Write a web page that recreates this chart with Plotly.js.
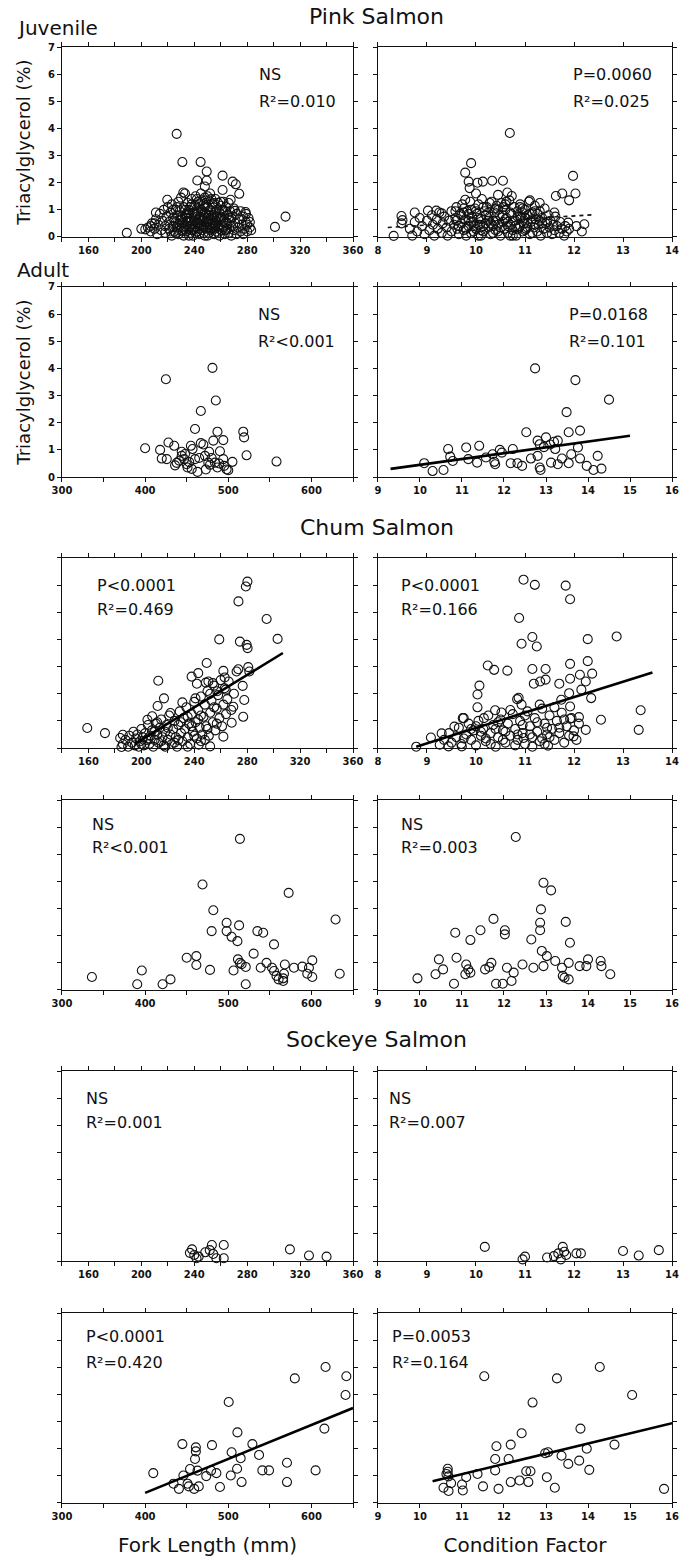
<!DOCTYPE html>
<html><head><meta charset="utf-8">
<script src="https://cdn.plot.ly/plotly-3.0.1.min.js"></script>
<style>html,body{margin:0;padding:0;background:#fff}</style>
</head><body><div id="chart" style="width:684px;height:1562px"></div>
<script>
// ---------------- DATA ----------------
const pinkJuvFL = [[189,0.15],[200,0.3],[203,0.28],[207,0.4],[210,0.5],[211,0.9],[219.6,1.37],[226.7,3.8],[231,2.76],[231.7,1.64],[244.8,2.76],[249.4,2.41],[242.3,2.08],[249.4,2.08],[248,1.86],[261.4,2.26],[261.4,1.73],[269,2.04],[271.4,1.94],[274,1.59],[267.5,1.37],[270.8,0.96],[278.8,0.92],[301,0.37],[309,0.75],
[205,0.35],[207,0.2],[208,0.5],[210,0.3],[211,0.65],[212,0.1],[213,0.45],[214,0.85],[215,0.25],[216,0.6],[217,1.0],[218,0.15],[218,0.4],[219,0.75],[220,1.1],[221,0.3],[221,0.55],[222,0.9],[223,0.05],[223,1.2],[224,0.4],[224,0.7],[225,0.2],[226,1.0],[226,0.55],[227,0.35],[227,0.8],[228,1.3],[228,0.1],[229,0.6],[229,0.95],[230,0.25],[230,1.45],[231,0.5],[231,0.75],[232,1.1],[232,0.05],[233,0.4],[233,1.6],[234,0.85],[234,0.2],[235,1.25],[235,0.6],[236,0.35],[236,1.0],[237,0.15],[237,0.7],[238,1.4],[238,0.45],[239,0.9],[239,0.05],[240,1.15],[240,0.3],[240,0.6],[241,1.5],[241,0.8],[242,0.2],[242,1.05],[243,0.5],[243,1.3],[244,0.1],[244,0.75],[245,1.6],[245,0.4],[246,0.95],[246,0.25],[247,1.2],[247,0.6],[248,0.05],[248,1.45],[249,0.85],[249,0.35],[250,1.1],[250,0.55],[251,0.15],[251,1.35],[252,0.7],[252,1.6],[253,0.3],[253,0.95],[254,1.2],[254,0.5],[255,0.1],[255,0.8],[256,1.4],[256,0.4],[257,1.0],[257,0.2],[258,0.65],[258,1.25],[259,0.05],[259,0.9],[260,0.45],[260,1.15],[261,0.25],[261,0.7],[262,1.3],[262,0.35],[263,0.95],[263,0.1],[264,0.55],[264,1.1],[265,0.3],[265,0.8],[266,1.25],[266,0.15],[267,0.6],[267,0.95],[268,0.4],[268,0.05],[269,0.75],[270,1.05],[270,0.25],[271,0.5],[272,0.85],[272,0.1],[273,0.35],[274,0.65],[275,0.2],[275,0.95],[276,0.45],[277,0.75],[277,0.1],[278,0.3],[279,0.55],[279,0.85],[280,0.2],[280,0.45],[281,0.7],[282,0.35],[282,0.55],[283,0.25],
[236,0.05],[238,0.25],[241,0.4],[244,0.3],[247,0.15],[250,0.05],[252,0.45],[255,0.3],[258,0.15],[243,0.65],[246,0.7],[249,0.55],[251,0.8],[254,0.35],[257,0.55],[239,0.5],[234,0.55],[231,0.2],[228,0.45],[226,0.15],[262,0.6],[265,0.5],[268,0.7],[256,0.9],[253,0.6],[248,0.9],[245,1.0],[242,0.85],[237,1.1],[233,1.0],
[232,0.3],[234,0.7],[236,0.85],[238,0.6],[240,0.9],[242,0.55],[244,1.2],[246,0.45],[248,0.7],[250,0.35],[252,1.0],[254,0.8],[256,0.6],[258,0.4],[260,0.75],[262,0.95],[264,0.25],[266,0.7],[241,0.15],[243,0.95],[245,0.6],[247,0.35],[249,1.25],[251,0.6],[253,1.4],[255,0.5],[257,0.75],[259,0.3],[261,1.0],[263,0.5],[235,0.9],[237,0.4],[239,0.25],[233,0.8],[230,0.65],[229,0.4],[227,1.1],[225,0.6],[222,0.2],[224,1.0],[250,1.5],[246,1.35],[242,1.4],[238,1.2],[255,1.25],[260,1.3],[236,0.6],[244,0.5],[252,0.25],[248,1.1]];

const pinkJuvCF = [[8.32,0.04],[8.48,0.77],[8.5,0.62],[8.48,0.5],[8.75,0.9],[9.02,0.97],[9.19,0.97],[9.3,0.87],[9.58,0.95],[9.9,2.72],[9.78,2.37],[9.85,2.04],[10.03,2.0],[9.87,1.8],[9.78,1.37],[10.0,1.6],[10.14,2.04],[10.33,2.07],[10.55,2.07],[10.69,3.83],[10.64,1.64],[10.73,1.51],[11.98,2.25],[11.63,1.51],[11.76,1.6],[12.03,1.6],[11.9,1.35],[11.88,0.53],[12.21,0.47],[12.16,0.2],[12.05,0.4],[10.45,1.55],[11.1,1.35],[11.3,1.25],
[8.65,0.3],[8.7,0.05],[8.75,0.55],[8.8,0.2],[8.85,0.7],[8.9,0.4],[8.95,0.1],[9.0,0.6],[9.05,0.25],[9.1,0.8],[9.12,0.45],[9.15,0.05],[9.2,0.65],[9.22,0.3],[9.25,0.9],[9.3,0.15],[9.32,0.5],[9.35,0.75],[9.4,0.35],[9.42,0.05],[9.45,0.6],[9.5,0.95],[9.5,0.2],[9.55,0.45],[9.58,0.7],[9.6,1.1],[9.62,0.3],[9.65,0.1],[9.68,0.85],[9.7,0.5],[9.72,1.2],[9.75,0.25],[9.78,0.65],[9.8,0.05],[9.82,0.95],[9.85,0.4],[9.88,1.3],[9.9,0.15],[9.92,0.75],[9.95,0.55],[9.98,1.05],[10.0,0.3],[10.02,0.85],[10.05,0.05],[10.05,1.2],[10.08,0.45],[10.1,0.65],[10.12,1.4],[10.15,0.2],[10.18,0.95],[10.2,0.5],[10.22,1.1],[10.25,0.35],[10.28,0.75],[10.3,0.1],[10.32,1.3],[10.35,0.6],[10.38,0.9],[10.4,0.25],[10.42,1.15],[10.45,0.45],[10.48,0.8],[10.5,0.05],[10.52,1.25],[10.55,0.55],[10.58,0.3],[10.6,1.0],[10.62,0.7],[10.65,0.15],[10.68,1.35],[10.7,0.45],[10.72,0.85],[10.75,0.25],[10.78,1.1],[10.8,0.6],[10.82,0.05],[10.85,0.95],[10.88,0.35],[10.9,1.2],[10.92,0.7],[10.95,0.2],[10.98,0.5],[11.0,1.0],[11.02,0.3],[11.05,0.8],[11.08,1.3],[11.1,0.1],[11.12,0.55],[11.15,0.9],[11.18,0.35],[11.2,1.15],[11.22,0.65],[11.25,0.2],[11.28,0.45],[11.3,0.95],[11.32,0.05],[11.35,0.7],[11.38,0.3],[11.4,1.05],[11.42,0.5],[11.45,0.15],[11.48,0.8],[11.5,0.35],[11.52,0.6],[11.55,0.1],[11.58,0.45],[11.6,0.25],[11.62,0.75],[11.65,0.4],[11.7,0.15],[11.72,0.55],[11.75,0.3],[11.8,0.05],[11.82,0.4],[11.85,0.2],[11.9,0.3],
[9.65,0.4],[9.75,0.9],[9.85,0.6],[9.95,0.2],[10.05,0.7],[10.15,0.4],[10.25,0.9],[10.35,0.15],[10.45,1.0],[10.55,0.8],[10.65,0.4],[10.75,0.6],[10.85,0.3],[10.95,0.9],[11.05,0.5],[11.15,0.15],[11.25,0.85],[10.1,0.05],[10.4,0.6],[10.7,0.05],[9.9,1.0],[10.6,1.2],[10.9,0.4],[11.0,0.7],
[9.7,0.8],[9.8,0.3],[9.9,0.55],[10.0,0.95],[10.1,0.25],[10.2,0.8],[10.3,0.5],[10.4,1.05],[10.5,0.35],[10.6,0.65],[10.7,0.9],[10.8,0.4],[10.9,0.75],[11.0,0.25],[11.1,0.85],[11.2,0.45],[11.3,0.6],[9.6,0.6],[9.75,1.05],[9.95,0.4],[10.15,1.1],[10.35,0.4],[10.55,1.1],[10.75,0.05],[10.95,1.05],[11.15,0.65],[11.35,0.5],[10.25,0.6],[10.45,0.2],[10.65,0.55],[10.85,0.75],[11.05,0.35],[9.85,0.85],[10.05,0.45],[10.28,1.25],[10.62,1.3],[10.9,1.1],[11.2,0.95],[11.45,0.55],[11.6,0.9]];
const pinkJuvCF_fitX = [8.2, 12.4];
const pinkJuvCF_fitY = [0.35, 0.82];

const pinkAdFL = [[400,1.06],[418,1.0],[420,0.68],[426,0.66],[425,3.6],[428,1.27],[435,1.15],[436,0.43],[438,0.52],[444,0.78],[447,0.66],[450,0.47],[451,0.35],[444,0.93],[455,1.15],[457,1.03],[460,1.77],[467,2.43],[467,1.25],[470,1.2],[463,0.19],[472,0.78],[476,0.53],[477,0.93],[481,4.02],[482,1.34],[485,2.82],[487,1.67],[484,0.53],[487,0.35],[489,0.5],[494,1.36],[494,0.66],[495,0.41],[498,0.28],[505,0.56],[518,1.67],[519,1.46],[522,0.8],[558,0.57],[465,0.7],[473,0.28],[460,0.66],[448,0.85],[453,0.55],[478,0.45],[480,0.7],[490,0.95],[441,0.6],[456,0.3],[500,0.25]];

const pinkAdCF = [[10.1,0.51],[10.3,0.22],[10.56,0.26],[10.67,1.03],[10.72,0.75],[10.78,0.59],[11.1,1.09],[11.15,0.66],[11.36,0.53],[11.41,1.15],[11.57,0.72],[11.73,0.84],[11.77,0.56],[11.79,0.47],[11.9,1.0],[12.21,1.03],[12.16,0.51],[12.32,0.51],[12.43,0.41],[12.53,1.65],[12.64,0.68],[12.74,4.0],[12.8,1.34],[12.85,1.21],[12.8,0.78],[12.85,0.35],[12.87,0.26],[13.0,1.46],[13.12,0.53],[13.19,1.3],[13.22,1.03],[13.28,1.34],[13.28,0.47],[13.38,0.68],[13.54,0.51],[13.49,2.39],[13.54,1.65],[13.6,0.84],[13.7,3.57],[13.76,1.09],[13.81,1.71],[13.81,0.68],[13.97,0.41],[14.13,0.26],[14.23,0.78],[14.32,0.31],[14.5,2.85],[12.95,1.1],[13.1,1.2],[11.95,0.9]];
const pinkAdCF_fitX = [9.3, 15.0];
const pinkAdCF_fitY = [0.3, 1.52];

const chumJuvFL = [[159.1,0.74],[172.5,0.55],[184,0.37],[185,0.04],[186,0.49],[280.2,6.13],[279,5.95],[273.4,5.4],[294.7,4.75],[303,4.02],[258.9,4.0],[274.5,3.92],[279.6,3.8],[280.3,3.68],[249.4,3.13],[212.8,2.48],[243,2.76],[238,2.63],[242,2.37],[248.8,2.41],[262,2.84],[263,2.6],[272,2.82],[273.3,2.9],[281.6,2.82],[280.8,2.98],[217.1,1.83],[212.3,1.55],[222,1.29],[208.2,1.17],[204.6,1.04],[231,1.68],[240.9,1.83],[250.7,2.45],[254,2.39],[257.3,2.09],[263.8,2.15],[269.5,1.52],[268.3,0.93],[276.6,2.29],[277.8,1.77],[277,1.15],[262,0.42],[252,0.06],[243.4,0.12],
[186,0.15],[188,0.3],[190,0.05],[191,0.45],[193,0.2],[194,0.6],[195,0.1],[196,0.35],[197,0.5],[198,0.05],[199,0.25],[200,0.7],[201,0.4],[202,0.1],[203,0.55],[204,0.3],[205,0.85],[206,0.15],[207,0.45],[208,0.65],[209,0.05],[210,0.3],[211,0.9],[212,0.5],[213,0.2],[214,0.75],[215,1.05],[216,0.4],[217,0.1],[218,0.6],[219,0.85],[220,0.3],[221,1.2],[222,0.5],[223,0.15],[224,0.7],[225,1.0],[226,0.4],[227,0.05],[228,0.85],[229,1.35],[230,0.55],[231,0.25],[232,1.1],[233,0.7],[234,1.5],[235,0.4],[236,0.9],[237,0.15],[238,1.25],[239,0.6],[240,1.7],[241,0.95],[242,0.35],[243,1.4],[244,0.75],[245,1.9],[246,0.5],[247,1.15],[248,1.6],[249,0.8],[250,2.1],[251,0.45],[252,1.3],[253,1.75],[254,0.95],[255,2.3],[256,0.65],[257,1.45],[258,1.95],[259,1.1],[260,2.5],[261,0.8],[262,1.6],[263,2.2],[264,1.25],[265,1.8],[266,2.45],[268,1.4],[270,2.0],
[200,0.15],[205,0.35],[210,0.6],[215,0.25],[220,0.75],[225,0.2],[230,0.95],[235,1.15],[240,0.45],[245,1.2],[250,0.7],[255,1.5],[245,0.25],[235,0.05],[228,0.3],[218,0.05],[212,0.95],[238,0.8],[243,1.05],[248,0.3],[252,2.0],[257,0.9]];
const chumJuvFL_fitX = [195, 307];
const chumJuvFL_fitY = [0.15, 3.5];

const chumJuvCF = [[8.78,0.05],[9.08,0.39],[9.3,0.54],[9.56,0.79],[9.73,1.1],[10.03,1.5],[10.03,1.97],[10.07,2.3],[10.24,3.04],[10.37,2.88],[10.64,2.85],[10.97,6.2],[11.2,6.01],[11.83,5.98],[11.92,5.48],[10.88,4.79],[12.87,4.11],[11.15,4.09],[10.93,3.84],[11.24,3.74],[12.28,4.01],[11.15,2.91],[11.42,2.91],[11.92,3.1],[12.28,3.2],[12.37,2.74],[12.12,2.7],[11.92,2.55],[12.24,2.45],[11.18,2.37],[11.31,2.45],[11.42,2.52],[11.7,2.37],[11.9,2.02],[12.15,2.15],[12.35,1.84],[11.74,1.78],[10.84,1.8],[10.87,1.85],[11.92,1.53],[12.1,1.14],[11.92,1.08],[12.55,1.04],[13.36,1.39],[13.32,0.67],[12.24,0.67],[11.99,0.43],[9.75,1.1],[10.16,1.1],[10.39,1.39],[10.52,1.31],[10.93,1.6],[10.97,0.37],[11.47,0.09],[9.26,0.12],[9.44,0.06],[9.71,0.06],
[9.35,0.3],[9.45,0.55],[9.5,0.2],[9.6,0.4],[9.65,0.75],[9.7,0.15],[9.8,0.5],[9.85,0.9],[9.9,0.3],[9.95,0.65],[10.0,0.1],[10.05,1.0],[10.1,0.45],[10.15,0.7],[10.2,0.25],[10.25,1.2],[10.3,0.55],[10.35,0.85],[10.4,0.05],[10.45,0.4],[10.5,1.05],[10.55,0.65],[10.6,0.2],[10.65,0.9],[10.7,0.45],[10.75,1.25],[10.8,0.7],[10.85,0.3],[10.9,1.0],[10.95,0.55],[11.0,0.15],[11.05,1.35],[11.1,0.8],[11.15,0.4],[11.2,1.1],[11.25,0.6],[11.3,0.25],[11.35,1.45],[11.4,0.9],[11.45,0.5],[11.5,1.2],[11.55,0.7],[11.6,0.3],[11.65,1.0],[11.7,0.55],[11.75,1.3],[11.8,0.2],[11.85,0.8],[11.9,0.45],[11.95,1.1],[12.0,0.65],[12.05,0.3],[12.1,0.9],
[9.75,0.35],[10.0,0.8],[10.3,0.15],[10.45,0.95],[10.6,0.6],[10.8,0.1],[10.95,0.85],[11.1,0.5],[11.25,0.95],[11.4,0.15],[11.5,0.4],[11.6,1.5],[11.3,1.6],[11.0,1.2],[10.7,1.4],[10.4,0.7],[10.2,0.35],[11.8,1.05],[11.45,0.75],[11.15,0.05],[10.85,0.5],[10.55,0.3],[11.35,0.35],[11.7,0.75],[10.1,0.6],[9.9,0.7]];
const chumJuvCF_fitX = [8.78, 13.6];
const chumJuvCF_fitY = [0.05, 2.78];

const chumAdFL = [[336,0.48],[390.5,0.21],[396,0.72],[421,0.21],[430.5,0.39],[450,1.19],[461.6,1.25],[461.6,0.92],[469,3.89],[478,0.74],[480,2.17],[482,2.94],[498,2.48],[498,2.17],[504,1.96],[513,2.38],[511,1.8],[514,5.57],[506.3,0.72],[511.6,1.13],[514,1.0],[516,0.95],[521,0.85],[521,0.21],[530.5,1.34],[535,2.17],[542,2.11],[539,0.82],[546,1.0],[555,1.68],[552.6,0.82],[555,0.7],[558,0.52],[560.5,0.39],[566,0.33],[566,0.43],[567,0.6],[572.6,3.58],[568,0.94],[579,0.82],[589,0.86],[595,0.6],[597,0.82],[601,1.09],[601,0.48],[629,2.6],[634,0.6]];

const chumAdCF = [[9.94,0.43],[10.37,0.58],[10.45,1.13],[10.55,0.76],[10.81,0.23],[10.87,1.19],[10.84,2.11],[11.1,0.94],[11.15,0.76],[11.08,0.58],[11.2,0.64],[11.2,1.84],[11.44,2.2],[11.55,0.76],[11.65,0.85],[11.7,1.0],[11.75,2.62],[11.81,0.23],[11.97,0.23],[12.02,2.2],[12.02,2.05],[12.07,0.82],[12.18,0.33],[12.28,5.64],[12.23,0.64],[12.44,0.94],[12.65,1.86],[12.7,0.82],[12.86,2.2],[12.86,2.48],[12.88,2.97],[12.94,3.95],[12.9,1.44],[12.94,0.88],[13.02,1.25],[13.12,3.67],[13.22,1.07],[13.38,0.82],[13.4,0.52],[13.44,0.45],[13.47,2.51],[13.54,1.0],[13.57,1.74],[13.54,0.39],[13.8,0.88],[13.96,0.88],[14.0,1.13],[14.3,1.07],[14.32,0.88],[14.53,0.58]];

const sockJuvFL = [[236.7,0.3],[238.3,0.43],[240,0.22],[241.7,0.1],[243.3,0.16],[248.3,0.32],[251.7,0.4],[253.3,0.59],[254.3,0.26],[256.7,0.1],[262.3,0.59],[262.3,0.1],[312.3,0.43],[326.7,0.2],[340,0.16]];

const sockJuvCF = [[10.18,0.52],[10.95,0.06],[11.0,0.16],[11.45,0.13],[11.59,0.18],[11.68,0.28],[11.73,0.06],[11.77,0.52],[11.8,0.34],[11.84,0.22],[12.05,0.28],[12.14,0.28],[13.0,0.37],[13.32,0.2],[13.73,0.4]];

const sockAdFL = [[409.8,1.1],[434.2,0.71],[440.6,0.52],[444.8,2.17],[446,1.01],[451,0.71],[452.5,0.61],[454,1.25],[459,0.52],[460,1.62],[461,1.9],[461,2.05],[463,1.19],[464.5,0.61],[473.5,0.99],[479.3,1.19],[480.4,2.13],[485.7,1.1],[490,0.59],[500.5,3.72],[503,1.01],[504,1.87],[510.6,1.26],[511,2.6],[514.9,1.65],[516,0.77],[529,2.17],[537,1.77],[541,1.2],[549,1.2],[570.6,1.48],[570.6,0.77],[580,4.59],[605,1.2],[615.6,2.74],[617,5.01],[641,3.98],[642,4.67]];
const sockAdFL_fitX = [400, 650];
const sockAdFL_fitY = [0.37, 3.5];

const sockAdCF = [[10.56,0.56],[10.63,1.07],[10.66,1.26],[10.66,1.15],[10.68,0.98],[10.68,0.44],[10.74,0.73],[11.0,0.68],[11.02,0.46],[11.1,0.95],[11.37,1.07],[11.5,0.61],[11.53,4.67],[11.79,1.2],[11.79,1.62],[11.82,2.09],[11.87,0.52],[12.11,1.62],[12.16,2.15],[12.16,0.77],[12.37,0.83],[12.42,2.57],[12.53,1.17],[12.58,0.77],[12.63,1.17],[12.68,3.7],[12.98,1.83],[13.02,0.95],[13.05,1.87],[13.21,0.56],[13.26,4.59],[13.37,1.74],[13.53,1.44],[13.79,1.56],[13.82,2.74],[13.97,2.0],[14.03,1.22],[14.28,5.01],[14.63,2.15],[15.05,3.98],[15.81,0.52]];
const sockAdCF_fitX = [10.3, 16.0];
const sockAdCF_fitY = [0.8, 2.94];

// Tick values, labels and unlabeled minor ticks
const flJuvTicks = [160,200,240,280,320,360];
const flJuvMinor = [140,180,220,260,300,340];
const flAdTicks = [300,400,500,600];
const flAdMinor = [350,450,550,650];
const cfJuvTicks = [8,9,10,11,12,13,14];
const cfAdTicks = [9,10,11,12,13,14,15,16];
const yTicks = [0,1,2,3,4,5,6,7];

// Stat labels per panel
const statTop = ['NS','P=0.0060','NS','P=0.0168','P&lt;0.0001','P&lt;0.0001','NS','NS','NS','NS','P&lt;0.0001','P=0.0053'];
const statR2  = ['R²=0.010','R²=0.025','R²&lt;0.001','R²=0.101','R²=0.469','R²=0.166','R²&lt;0.001','R²=0.003','R²=0.001','R²=0.007','R²=0.420','R²=0.164'];

// ---------------- BUILD ----------------
const FONT = 'DejaVu Sans, Verdana, sans-serif';
const colDom = [[0.0906,0.5161],[0.5526,0.9825]];
const rowDom = [[0.8483,0.9699],[0.6946,0.8163],[0.5211,0.6428],[0.3662,0.4878],[0.1927,0.3143],[0.0378,0.1594]];

const panels = [
  {pts: pinkJuvFL, ax:'flJuv'}, {pts: pinkJuvCF, ax:'cfJuv', fx: pinkJuvCF_fitX, fy: pinkJuvCF_fitY, dash:true},
  {pts: pinkAdFL, ax:'flAd'},  {pts: pinkAdCF, ax:'cfAd', fx: pinkAdCF_fitX, fy: pinkAdCF_fitY},
  {pts: chumJuvFL, ax:'flJuv', fx: chumJuvFL_fitX, fy: chumJuvFL_fitY}, {pts: chumJuvCF, ax:'cfJuv', fx: chumJuvCF_fitX, fy: chumJuvCF_fitY},
  {pts: chumAdFL, ax:'flAd'},  {pts: chumAdCF, ax:'cfAd'},
  {pts: sockJuvFL, ax:'flJuv'}, {pts: sockJuvCF, ax:'cfJuv'},
  {pts: sockAdFL, ax:'flAd', fx: sockAdFL_fitX, fy: sockAdFL_fitY}, {pts: sockAdCF, ax:'cfAd', fx: sockAdCF_fitX, fy: sockAdCF_fitY}
];
const axisDefs = {
  flJuv: {range:[140,360], vals: flJuvTicks, minor: flJuvMinor},
  flAd:  {range:[300,650], vals: flAdTicks, minor: flAdMinor},
  cfJuv: {range:[8,14], vals: cfJuvTicks},
  cfAd:  {range:[9,16], vals: cfAdTicks}
};
// stat label positions: [fraction across panel, y value of first line, y value of second line]
const statPos = [[0.67,6,5],[0.655,6,5],[0.666,6,5],[0.643,6,5],[0.112,6,5.1],[0.072,6,5.1],[0.096,6.1,5.25],[0.072,6.1,5.25],[0.075,6,5.12],[0.03,6,5.12],[0.075,6.12,5.18],[0.042,6.12,5.18]];

const traces = [];
const layout = {
  width: 684, height: 1562, margin:{l:0,r:0,t:0,b:0},
  paper_bgcolor:'#fff', plot_bgcolor:'#fff', showlegend:false,
  font:{family: FONT, color:'#111', size:12},
  annotations: []
};

panels.forEach((p, i) => {
  const n = i + 1;
  const sfx = n === 1 ? '' : String(n);
  const row = Math.floor(i / 2), col = i % 2;
  traces.push({
    type:'scatter', mode:'markers', xaxis:'x'+sfx, yaxis:'y'+sfx,
    x: p.pts.map(d => d[0]), y: p.pts.map(d => d[1]),
    marker:{symbol:'circle-open', size:9, color:'#111', line:{width:1.1, color:'#111'}},
    cliponaxis:false, hoverinfo:'x+y'
  });
  if (p.fx) {
    traces.push({
      type:'scatter', mode:'lines', xaxis:'x'+sfx, yaxis:'y'+sfx,
      x: p.fx, y: p.fy,
      line: p.dash ? {color:'#111', width:1.6, dash:'4px,4px'} : {color:'#000', width:2.6},
      hoverinfo:'skip'
    });
  }
  const a = axisDefs[p.ax];
  const common = {showline:true, linecolor:'#111', linewidth:1, mirror:'ticks', ticks:'outside', ticklen:4, tickwidth:1, tickcolor:'#111', showgrid:false, zeroline:false, fixedrange:true};
  const xa = Object.assign({}, common, {
    domain: colDom[col], anchor:'y'+sfx, range:a.range, tickmode:'array', tickvals:a.vals, ticktext:a.vals.map(String),
    tickfont:{family:FONT, size:10, weight:'bold', color:'#111'}
  });
  if (a.minor) xa.minor = {tickmode:'array', tickvals:a.minor, ticks:'outside', ticklen:4, tickwidth:1, tickcolor:'#111', showgrid:false};
  layout['xaxis'+sfx] = xa;
  const showY = (row <= 1 && col === 0);
  layout['yaxis'+sfx] = Object.assign({}, common, {
    domain: rowDom[row], anchor:'x'+sfx, range:[0,7], tickmode:'array', tickvals:yTicks, ticktext:yTicks.map(String),
    showticklabels: showY, tickfont:{family:FONT, size:10, weight:'bold', color:'#111'}
  });
  if (showY) {
    layout['yaxis'+sfx].title = {text:'Triacylglycerol (%)', font:{family:FONT, size:18, color:'#111'}, standoff:12};
  }
  if (row === 5) {
    layout['xaxis'+sfx].title = {text: col === 0 ? 'Fork Length (mm)' : 'Condition Factor', font:{family:FONT, size:20, color:'#111'}, standoff:17};
  }
  // stat labels placed in paper coordinates at the panel position
  const sp = statPos[i];
  const cx = colDom[col][0] + sp[0] * (colDom[col][1] - colDom[col][0]);
  const rh = rowDom[row][1] - rowDom[row][0];
  [[statTop[i], sp[1]], [statR2[i], sp[2]]].forEach(t => {
    layout.annotations.push({xref:'paper', yref:'paper', x:cx, y: rowDom[row][0] + rh * t[1] / 7,
      xanchor:'left', yanchor:'middle', showarrow:false, text:t[0], font:{family:FONT, size:16, color:'#111'}});
  });
});

const headers = [
  {text:'Pink Salmon', x:0.551, y:1-17/1562, size:22, anchor:'center'},
  {text:'Chum Salmon', x:0.551, y:1-527/1562, size:22, anchor:'center'},
  {text:'Sockeye Salmon', x:0.551, y:1-1039/1562, size:22, anchor:'center'},
  {text:'Juvenile', x:15/684, y:1-28/1562, size:20, anchor:'left'},
  {text:'Adult', x:15/684, y:1-270/1562, size:20, anchor:'left'}
];
headers.forEach(h => layout.annotations.push({xref:'paper', yref:'paper', x:h.x, y:h.y, xanchor:h.anchor, yanchor:'middle', showarrow:false, text:h.text, font:{family:FONT, size:h.size, color:'#111'}}));

Plotly.newPlot('chart', traces, layout, {staticPlot:true, displayModeBar:false});
</script></body></html>
